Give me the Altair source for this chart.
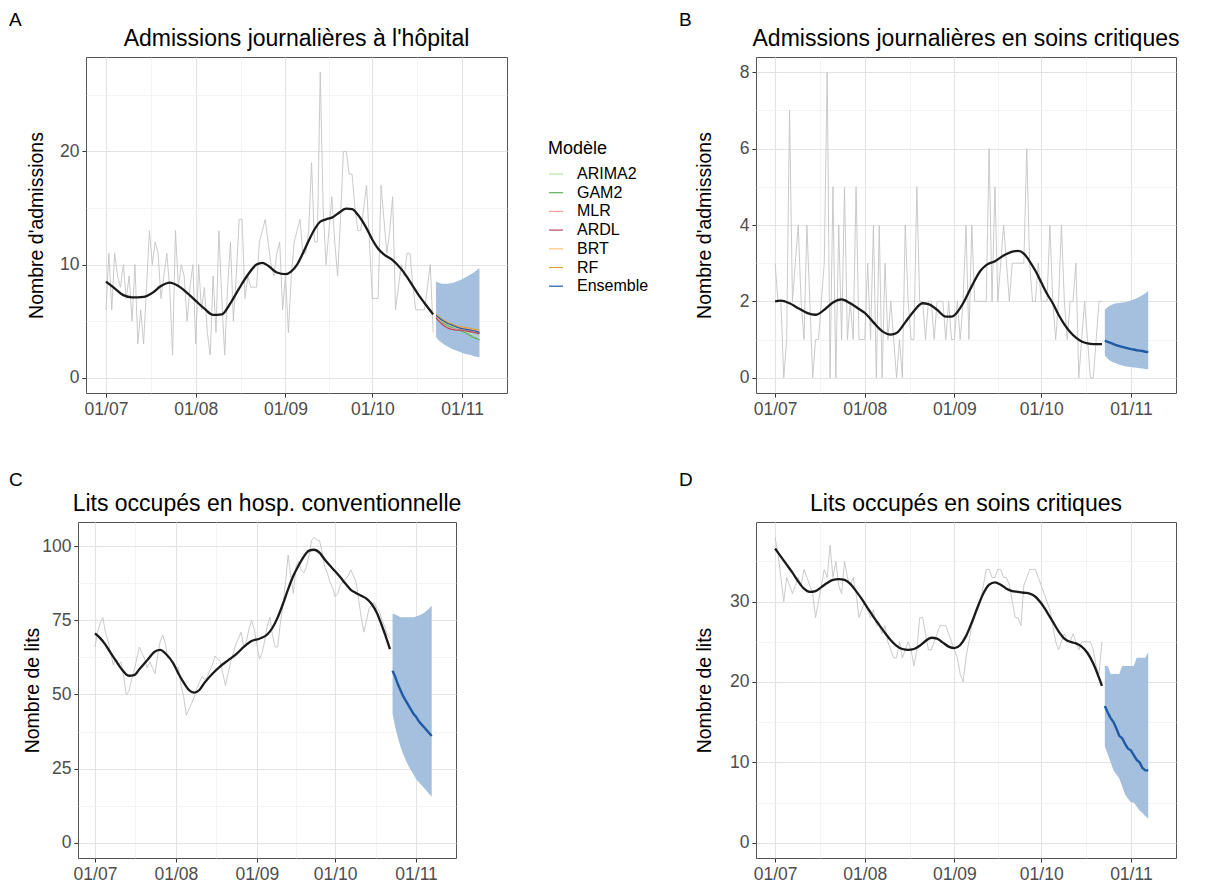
import altair as alt
import pandas as pd

FONT = "Liberation Sans"

# ---------------- shared axis data ----------------
X_MAJOR = [0, 31, 62, 92, 123]
X_LABELS = ["01/07", "01/08", "01/09", "01/10", "01/11"]
X_MINOR = [15.5, 46.5, 77, 107.5]
FC_DAYS = list(range(114, 130))

# ---------------- Panel A : admissions hôpital ----------------
A_RAW = [6, 11, 6, 11, 9, 8, 10, 7, 9, 5, 10, 3, 6, 3, 8, 13, 10, 12, 11, 7,
         9, 11, 8, 2, 13, 8, 10, 9, 5, 8, 10, 3, 10, 6, 8, 4, 2, 9, 4, 13,
         7, 2, 8, 12, 5, 9, 14, 14, 7, 9, 8, 8, 8, 12, 13, 14, 12, 10, 9, 11,
         12, 6, 9, 4, 9, 12, 13, 14, 11, 11, 13, 19, 12, 12, 27, 15, 10, 13, 16, 12,
         9, 14, 20, 20, 18, 18, 15, 13, 13, 15, 17, 12, 7, 7, 7, 17, 14, 11, 13, 16,
         6, 8, 10, 9, 11, 11, 8, 6, 6, 6, 6, 8, 10, 4]
A_SM_DAYS = [0, 3, 6, 9, 13, 16, 19, 22, 25, 28, 31, 34, 37, 40, 43, 46, 49, 52, 54, 56,
             59, 62, 64, 66, 68, 70, 72, 74, 76, 78, 80, 83, 85, 87, 90, 92, 94, 96, 99, 102,
             104, 106, 108, 110, 113]
A_SM = [8.5, 7.9, 7.3, 7.1, 7.15, 7.5, 8.1, 8.4, 8.1, 7.5, 6.8, 6.1, 5.55, 5.6, 6.6, 7.9, 9.1, 10.0, 10.15, 9.9,
        9.3, 9.15, 9.4, 10.0, 11.0, 12.1, 13.1, 13.8, 14.0, 14.15, 14.5, 14.95, 14.9, 14.4, 13.2, 12.2, 11.4, 10.9, 10.4, 9.6,
        8.9, 8.1, 7.3, 6.6, 5.6]
A_LO = [3.6, 3.3, 3.1, 2.9, 2.75, 2.6, 2.5, 2.4, 2.3, 2.2, 2.1, 2.05, 2.0, 1.9, 1.85, 1.8]
A_HI = [8.5, 8.4, 8.3, 8.3, 8.3, 8.35, 8.4, 8.5, 8.6, 8.7, 8.85, 9.0, 9.15, 9.3, 9.5, 9.7]
MODELS = ["ARIMA2", "GAM2", "MLR", "ARDL", "BRT", "RF", "Ensemble"]
MODEL_COLORS = ["#bfe0a8", "#5fb35a", "#f7a3a3", "#b5485f", "#fcc57f", "#e0a040", "#1f5aa6"]
MODEL_WIDTHS = [1.2, 1.2, 1.2, 1.2, 1.2, 1.2, 2.4]
A_ARIMA2 = [5.4, 5.2, 5.0, 4.85, 4.7, 4.6, 4.5, 4.4, 4.3, 4.2, 4.1, 4.0, 3.9, 3.8, 3.7, 3.6]
A_GAM2 = [5.3, 5.1, 4.9, 4.75, 4.6, 4.5, 4.4, 4.3, 4.2, 4.1, 4.0, 3.85, 3.7, 3.55, 3.45, 3.35]
A_MLR = [5.4, 5.1, 4.8, 4.6, 4.45, 4.35, 4.3, 4.3, 4.3, 4.3, 4.25, 4.2, 4.15, 4.1, 4.05, 4.0]
A_ARDL = [5.3, 5.0, 4.75, 4.55, 4.4, 4.3, 4.25, 4.2, 4.2, 4.2, 4.15, 4.1, 4.05, 4.0, 3.95, 3.9]
A_BRT = [5.5, 5.3, 5.1, 4.9, 4.8, 4.7, 4.6, 4.55, 4.5, 4.45, 4.4, 4.35, 4.3, 4.25, 4.2, 4.15]
A_RF = [5.6, 5.4, 5.2, 5.05, 4.9, 4.8, 4.7, 4.6, 4.55, 4.5, 4.45, 4.4, 4.35, 4.3, 4.25, 4.2]
A_ENS = [5.5, 5.3, 5.1, 4.95, 4.8, 4.7, 4.6, 4.5, 4.4, 4.35, 4.3, 4.25, 4.2, 4.15, 4.1, 4.0]

# ---------------- Panel B : admissions soins critiques ----------------
B_RAW = [3, 2, 2, 0, 1, 7, 2, 3, 4, 2,
         1, 4, 2, 0, 1, 1, 2, 3, 8, 0,
         5, 0, 4, 1, 5, 1, 2, 1, 5, 1,
         1, 1, 3, 1, 4, 0, 4, 0, 3, 1,
         2, 1, 0, 1, 0, 4, 2, 1, 1, 5,
         2, 2, 1, 2, 2, 1, 2, 2, 2, 1,
         2, 1, 1, 2, 1, 2, 4, 1, 4, 2,
         2, 2, 2, 2, 6, 2, 5, 2, 3, 4,
         3, 2, 3, 3, 3, 3, 3, 6, 3, 2,
         2, 3, 2, 2, 2, 4, 2, 1, 2, 4,
         2, 1, 2, 2, 3, 0, 1, 2, 1, 0,
         0, 1, 2, 2]
B_SM_DAYS = [0, 2, 5, 8, 11, 14, 17, 20, 23, 26, 29, 31, 34, 37, 40, 42, 45, 48, 51, 53,
             56, 59, 61, 63, 65, 68, 71, 73, 76, 79, 82, 84, 86, 88, 90, 92, 94, 96, 98, 100,
             102, 104, 106, 108, 110, 113]
B_SM = [2.0, 2.02, 1.95, 1.82, 1.7, 1.65, 1.78, 1.97, 2.05, 1.95, 1.8, 1.7, 1.45, 1.22, 1.13, 1.17, 1.45, 1.75, 1.95, 1.93,
        1.78, 1.6, 1.6, 1.72, 1.95, 2.4, 2.8, 2.95, 3.05, 3.2, 3.3, 3.32, 3.25, 3.05, 2.8, 2.5, 2.2, 1.95, 1.65, 1.4,
        1.2, 1.05, 0.95, 0.9, 0.88, 0.88]
B_LO = [0.58, 0.5, 0.44, 0.4, 0.37, 0.34, 0.32, 0.3, 0.29, 0.28, 0.27, 0.26, 0.25, 0.24, 0.23, 0.22]
B_HI = [1.78, 1.85, 1.9, 1.93, 1.95, 1.96, 1.97, 1.98, 2.0, 2.02, 2.05, 2.08, 2.12, 2.16, 2.21, 2.27]
B_ENS = [0.97, 0.94, 0.91, 0.88, 0.85, 0.83, 0.81, 0.79, 0.77, 0.75, 0.74, 0.72, 0.71, 0.70, 0.68, 0.67]

# ---------------- Panel C : lits hosp. conventionnelle ----------------
C_RAW = [66, 71, 74, 76, 71, 68, 64, 60, 62, 60,
         61, 56, 50, 51, 55, 58, 62, 66, 64, 62,
         59, 61, 59, 57, 63, 68, 70, 67, 62, 62,
         60, 59, 59, 53, 49, 43, 45, 47, 49, 52,
         54, 56, 55, 56, 58, 60, 63, 62, 61, 57,
         53, 57, 61, 64, 67, 69, 71, 66, 68, 72,
         75, 72, 67, 62, 64, 68, 73, 76, 70, 66,
         66, 74, 80, 88, 97, 90, 84, 93, 95, 92,
         91, 93, 97, 102, 103, 102, 102, 98, 93, 91,
         88, 86, 83, 84, 87, 88, 89, 90, 92, 90,
         88, 82, 76, 71, 75, 79, 80, 81, 79, 78,
         75, 73, 70, 69]
C_SM_DAYS = [0, 2, 4, 6, 8, 10, 13, 15, 17, 20, 23, 25, 27, 30, 32, 34, 36, 38, 40, 42,
             45, 48, 51, 54, 57, 60, 63, 66, 68, 70, 72, 74, 76, 78, 80, 82, 84, 86, 88, 91,
             94, 96, 98, 100, 102, 104, 106, 108, 110, 112, 113]
C_SM = [70.6, 69, 66.8, 64, 61.4, 58.8, 56.3, 56.5, 58.5, 61.5, 64.5, 65, 63.8, 60.5, 57, 54, 51.5, 50.6, 51.5, 54,
        57, 59.5, 61.5, 63.5, 66, 68, 68.8, 70.2, 72.5, 76, 80.5, 85.5, 90, 93.5, 96.5, 98.5, 98.8, 97.8, 95.5, 92.5,
        89.5, 87.3, 85.3, 84.2, 83.3, 82.3, 80.5, 77.5, 73, 68, 65.3]
C_LO = [43.5, 39, 35.5, 32.5, 30, 28, 26, 24.5, 23, 21.5, 20.5, 19.5, 18.5, 17.5, 16.5, 15.5]
C_HI = [77.3, 77, 76.5, 76, 76, 76, 76, 76, 76, 76.3, 76.6, 77, 77.5, 78.2, 79, 80]
C_ENS = [58, 56, 53.5, 51.5, 49.5, 48, 46.5, 45, 43.5, 42.5, 41, 40, 39, 38, 37, 36]

# ---------------- Panel D : lits soins critiques ----------------
D_RAW = [38, 36, 33, 30, 33, 32, 31, 32, 33, 32,
         34, 33, 32, 31, 28, 30, 32, 34, 33, 37,
         33, 35, 32, 31, 35, 33, 32, 33, 31, 28,
         29, 30, 29, 28, 29, 27, 27, 26, 27, 25,
         24, 23, 23, 25, 23, 24, 25, 24, 22, 24,
         28, 28, 26, 24, 24, 25, 26, 27, 27, 27,
         26, 25, 24, 23, 21, 20, 23, 25, 27, 28,
         29, 30, 32, 34, 34, 33, 33, 34, 34, 33,
         33, 32, 30, 28, 28, 27, 32, 33, 34, 34,
         34, 33, 32, 31, 30, 29, 27, 25, 24, 25,
         26, 25, 25, 26, 25, 24, 25, 25, 25, 25,
         24, 22, 21, 25]
D_SM_DAYS = [0, 2, 4, 6, 8, 10, 12, 14, 16, 18, 20, 22, 24, 26, 28, 30, 32, 34, 36, 38,
             40, 42, 44, 46, 48, 50, 52, 54, 56, 58, 60, 62, 64, 66, 68, 70, 72, 74, 76, 78,
             80, 82, 84, 86, 88, 90, 92, 94, 96, 98, 100, 102, 104, 106, 108, 110, 112, 113]
D_SM = [36.6, 35.6, 34.6, 33.6, 32.5, 31.6, 31.2, 31.3, 31.8, 32.3, 32.7, 32.8, 32.7, 32.2, 31.3, 30.3, 29.2, 28.1, 27.1, 26.1,
        25.2, 24.5, 24.1, 24.0, 24.1, 24.5, 25.1, 25.5, 25.4, 24.9, 24.4, 24.2, 24.6, 25.7, 27.4, 29.3, 31.0, 32.1, 32.4, 32.1,
        31.6, 31.3, 31.2, 31.1, 31.0, 30.6, 29.8, 28.7, 27.5, 26.3, 25.4, 25.0, 24.8, 24.4, 23.6, 22.3, 20.5, 19.5]
D_LO = [12, 11, 10, 9, 8.5, 8, 7, 6, 5.5, 5, 5, 4.5, 4, 3.7, 3.3, 3]
D_HI = [22, 22, 21, 21, 21, 21, 22, 22, 22, 22, 22, 23, 23, 23, 23, 23.7]
D_ENS = [17, 16.2, 15.5, 15.0, 14.2, 13.3, 13.0, 12.3, 11.7, 11.5, 10.9, 10.3, 10.0, 9.3, 9.0, 9.0]

# ---------------- styling ----------------
GRAY_LINE = "#c4c4c4"
SMOOTH_COL = "#1a1a1a"
RIBBON_COL = "#a4c0de"
ENS_COL = "#1f5aa6"
GRID_MAJ = "#e3e3e3"
GRID_MIN = "#efefef"
PANEL_H = 336
TICK_FS = 17.5


def x_axis():
    expr = "''"
    for v, lab in reversed(list(zip(X_MAJOR, X_LABELS))):
        expr = f"datum.value == {v} ? '{lab}' : ({expr})"
    minor_test = " || ".join(f"datum.value == {v}" for v in X_MINOR)
    return alt.Axis(
        values=X_MAJOR + X_MINOR, labelExpr=expr, title=None,
        labelOverlap=False, labelFlush=False, domain=False,
        labelFont=FONT, labelFontSize=TICK_FS, labelColor="#4d4d4d", labelPadding=3,
        tickColor="#333333", tickSize=4, tickWidth=1,
        tickOpacity={"condition": {"test": minor_test, "value": 0}, "value": 1},
        gridColor={"condition": {"test": minor_test, "value": GRID_MIN}, "value": GRID_MAJ},
        gridWidth={"condition": {"test": minor_test, "value": 0.7}, "value": 1.1},
    )


def y_axis(title, step, vmax, title_x):
    vals = []
    v = 0.0
    while v <= vmax + 1e-9:
        vals.append(v)
        v += step / 2
    minor_test = f"datum.value % {step} != 0"
    return alt.Axis(
        values=vals, labelExpr=f"datum.value % {step} == 0 ? datum.label : ''",
        title=title, titleFont=FONT, titleFontSize=19.5, titleFontWeight="normal",
        titleColor="black", titleAngle=270, titleX=title_x, titleY=PANEL_H / 2,
        titleAlign="center", titleBaseline="middle",
        labelOverlap=False, labelFlush=False, domain=False,
        labelFont=FONT, labelFontSize=TICK_FS, labelColor="#4d4d4d", labelPadding=3,
        tickColor="#333333", tickSize=4, tickWidth=1,
        tickOpacity={"condition": {"test": minor_test, "value": 0}, "value": 1},
        gridColor={"condition": {"test": minor_test, "value": GRID_MIN}, "value": GRID_MAJ},
        gridWidth={"condition": {"test": minor_test, "value": 0.7}, "value": 1.1},
    )


def panel(tag, tag_x, tag_y, title, ytitle, title_x, raw, sm_d, sm_v, lo, hi, ens, xdom, ydom,
          ystep, ymax, width, models=None):
    xs = alt.Scale(domain=xdom, nice=False, zero=False)
    ys = alt.Scale(domain=ydom, nice=False, zero=False)
    xa = x_axis()
    ya = y_axis(ytitle, ystep, ymax, title_x)

    def ex():
        return alt.X("day:Q", scale=xs, axis=xa)

    def ey(f="value"):
        return alt.Y(f"{f}:Q", scale=ys, axis=ya)

    raw_df = pd.DataFrame({"day": list(range(len(raw))), "value": raw})
    sm_df = pd.DataFrame({"day": sm_d, "value": sm_v})
    rib_df = pd.DataFrame({"day": FC_DAYS, "lo": lo, "hi": hi})

    layers = [
        alt.Chart(raw_df).mark_line(color=GRAY_LINE, strokeWidth=0.9).encode(x=ex(), y=ey()),
        alt.Chart(sm_df).mark_line(color=SMOOTH_COL, strokeWidth=2.3, interpolate="monotone").encode(x=ex(), y=ey()),
        alt.Chart(rib_df).mark_area(color=RIBBON_COL, opacity=1).encode(x=ex(), y=ey("lo"), y2="hi:Q"),
    ]
    if models is not None:
        rows = []
        for name, vals in models:
            for d, v in zip(FC_DAYS, vals):
                rows.append({"day": d, "value": v, "model": name})
        mdf = pd.DataFrame(rows)
        leg = alt.Legend(title="Modèle", orient="none", legendX=462, legendY=83,
                         titleFont=FONT, titleFontSize=18, titleFontWeight="normal", titleColor="black",
                         labelFont=FONT, labelFontSize=16, labelColor="black",
                         symbolType="stroke", symbolSize=200, rowPadding=2.7,
                         titlePadding=8, labelOffset=13)
        layers.append(
            alt.Chart(mdf).mark_line(interpolate="monotone").encode(
                x=ex(), y=ey(),
                color=alt.Color("model:N", scale=alt.Scale(domain=MODELS, range=MODEL_COLORS), legend=leg),
                strokeWidth=alt.StrokeWidth("model:N", scale=alt.Scale(domain=MODELS, range=MODEL_WIDTHS), legend=leg),
            )
        )
    else:
        ens_df = pd.DataFrame({"day": FC_DAYS, "value": ens})
        layers.append(
            alt.Chart(ens_df).mark_line(color=ENS_COL, strokeWidth=2.4).encode(x=ex(), y=ey())
        )
    # panel tag and panel title as text annotations
    layers.append(
        alt.Chart(pd.DataFrame({"t": [tag]})).mark_text(
            align="left", baseline="top", font=FONT, fontSize=19, color="black"
        ).encode(x=alt.value(tag_x), y=alt.value(tag_y), text="t:N")
    )
    layers.append(
        alt.Chart(pd.DataFrame({"t": [title]})).mark_text(
            align="center", baseline="alphabetic", font=FONT, fontSize=23, color="black"
        ).encode(x=alt.value(width / 2), y=alt.value(-11), text="t:N")
    )
    return alt.layer(*layers).properties(width=width, height=PANEL_H)


pA = panel("A", -77, -46, "Admissions journalières à l'hôpital", "Nombre d'admissions", -50,
           A_RAW, A_SM_DAYS, A_SM, A_LO, A_HI, A_ENS, [-6.9, 138.5], [-1.35, 28.35], 10, 28, 421,
           models=[("ARIMA2", A_ARIMA2), ("GAM2", A_GAM2), ("MLR", A_MLR), ("ARDL", A_ARDL),
                   ("BRT", A_BRT), ("RF", A_RF), ("Ensemble", A_ENS)])
pB = panel("B", -77, -46, "Admissions journalières en soins critiques", "Nombre d'admissions", -52,
           B_RAW, B_SM_DAYS, B_SM, B_LO, B_HI, B_ENS, [-6.6, 138.6], [-0.4, 8.4], 2, 8.4, 420)
pC = panel("C", -69, -51, "Lits occupés en hosp. conventionnelle", "Nombre de lits", -45.5,
           C_RAW, C_SM_DAYS, C_SM, C_LO, C_HI, C_ENS, [-6.5, 138.3], [-5.15, 108.15], 25, 108, 378)
pD = panel("D", -77, -51, "Lits occupés en soins critiques", "Nombre de lits", -52,
           D_RAW, D_SM_DAYS, D_SM, D_LO, D_HI, D_ENS, [-6.6, 138.6], [-1.9, 39.9], 10, 39.9, 420)

RES = dict(x="independent", y="independent", color="independent", strokeWidth="independent")

# an empty 1px view that offsets the top row by 8px relative to the bottom row
spacer = alt.Chart(pd.DataFrame({"a": [0]})).mark_point(opacity=0).properties(
    width=1, height=1, view=alt.ViewBackground(stroke="transparent", strokeWidth=0)
)

top_pair = alt.hconcat(pA, pB, spacing=249, bounds="flush").resolve_scale(**RES)
row1 = alt.hconcat(spacer, top_pair, spacing=7, bounds="flush").resolve_scale(**RES)
row2 = alt.hconcat(pC, pD, spacing=300, bounds="flush").resolve_scale(**RES)

chart = alt.vconcat(row1, row2, spacing=52).resolve_scale(**RES).properties(
    padding={"left": 0, "top": 2, "right": 4, "bottom": 2}
).configure(font=FONT, background="white").configure_view(stroke="#555555", strokeWidth=1)

chart.save("out.html", embed_options={"renderer": "svg", "actions": False})
